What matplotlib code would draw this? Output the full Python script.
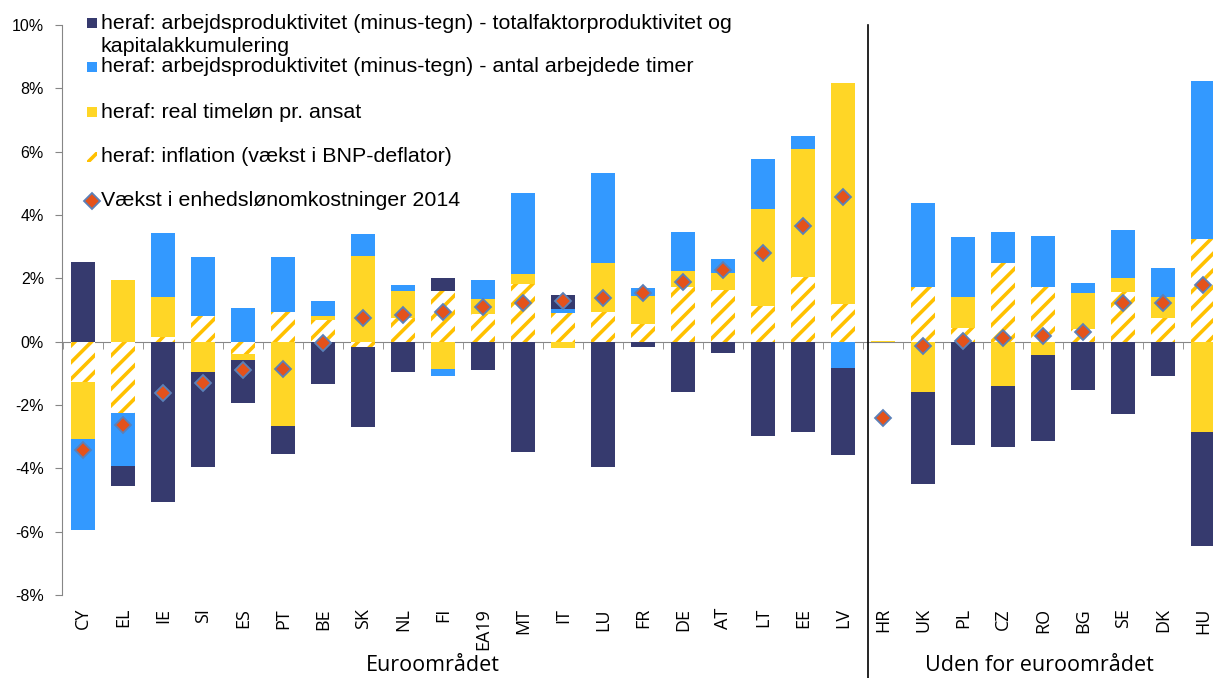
import numpy as np
import matplotlib.pyplot as plt
from matplotlib.patches import Rectangle
from matplotlib.lines import Line2D
from matplotlib import transforms
from matplotlib.ticker import FuncFormatter, FixedLocator

#%% data (pct. points)
countries = ['CY', 'EL', 'IE', 'SI', 'ES', 'PT', 'BE', 'SK', 'NL', 'FI', 'EA19', 'MT', 'IT', 'LU',
             'FR', 'DE', 'AT', 'LT', 'EE', 'LV',
             'HR', 'UK', 'PL', 'CZ', 'RO', 'BG', 'SE', 'DK', 'HU']
inflation = [-1.26, -2.24, 0.16, 0.82, -0.39, 0.95, 0.68, -0.18, 0.75, 1.60, 0.88, 1.81, 0.90, 0.95,
             0.56, 1.72, 1.63, 1.13, 2.03, 1.19,
             0.0, 1.72, 0.44, 2.47, 1.74, 0.40, 1.57, 0.75, 3.23]
real_wage = [-1.81, 1.95, 1.24, -0.97, -0.19, -2.66, 0.14, 2.69, 0.85, -0.86, 0.46, 0.32, -0.19, 1.53,
             0.88, 0.52, 0.53, 3.07, 4.05, 6.98,
             0.03, -1.60, 0.96, -1.39, -0.42, 1.13, 0.44, 0.66, -2.85]
hours = [-2.88, -1.69, 2.04, 1.84, 1.05, 1.73, 0.46, 0.70, 0.19, -0.21, 0.61, 2.56, 0.12, 2.86,
         0.24, 1.22, 0.44, 1.56, 0.43, -0.82,
         0.0, 2.65, 1.90, 1.00, 1.61, 0.31, 1.51, 0.92, 5.00]
tfp = [2.53, -0.64, -5.06, -2.98, -1.37, -0.90, -1.34, -2.50, -0.97, 0.40, -0.89, -3.48, 0.45, -3.97,
       -0.18, -1.58, -0.35, -2.98, -2.86, -2.77,
       0.0, -2.89, -3.27, -1.95, -2.73, -1.53, -2.29, -1.07, -3.60]
ulc = [-3.42, -2.63, -1.61, -1.29, -0.89, -0.87, -0.05, 0.74, 0.84, 0.95, 1.09, 1.23, 1.30, 1.37,
       1.53, 1.90, 2.26, 2.79, 3.65, 4.58,
       -2.42, -0.14, 0.02, 0.11, 0.19, 0.32, 1.23, 1.23, 1.79]

labels = ['heraf: arbejdsproduktivitet (minus-tegn) - totalfaktorproduktivitet og\nkapitalakkumulering',
          'heraf: arbejdsproduktivitet (minus-tegn) - antal arbejdede timer',
          'heraf: real timeløn pr. ansat',
          'heraf: inflation (vækst i BNP-deflator)',
          'Vækst i enhedslønomkostninger 2014']

navy = '#363A6E'
blue = '#3399FF'
yellow = '#FFD626'
hatch_col = '#FFC000'
diamond_fc = '#E4521B'
diamond_ec = '#5B80B8'
grey = '#868686'

plt.rcParams['hatch.linewidth'] = 2.6

#%% figure
W, H = 1213, 678
fig = plt.figure(figsize=(W / 100, H / 100), dpi=100)
ax = fig.add_axes([62 / W, 1 - 595 / H, (W - 62) / W, 570 / H])

x = np.arange(len(countries))
width = 0.59
pos_base = np.zeros(len(x))
neg_base = np.zeros(len(x))

# stacking order: inflation nearest zero, then real wage, hours, tfp
series = [(inflation, dict(facecolor='white', edgecolor=hatch_col, hatch='//')),
          (real_wage, dict(color=yellow)),
          (hours, dict(color=blue)),
          (tfp, dict(color=navy))]
for vals, style in series:
    vals = np.array(vals)
    pos = np.where(vals > 0, vals, 0)
    neg = np.where(vals < 0, vals, 0)
    ax.bar(x, pos, width, bottom=pos_base, zorder=2, linewidth=0, **style)
    ax.bar(x, neg, width, bottom=neg_base, zorder=2, linewidth=0, **style)
    pos_base += pos
    neg_base += neg

ax.plot(x, ulc, linestyle='none', marker='D', markersize=8.5, markerfacecolor=diamond_fc,
        markeredgecolor=diamond_ec, markeredgewidth=1.3, zorder=4)

ax.set_xlim(-0.525, 28.25)
ax.set_ylim(-8, 10)

# axes styling
for s in ['top', 'right']:
    ax.spines[s].set_visible(False)
ax.spines['left'].set_color(grey)
ax.spines['bottom'].set_position(('data', 0))
ax.spines['bottom'].set_color(grey)
ax.spines['bottom'].set_zorder(1.5)
ax.set_yticks(np.arange(-8, 11, 2))
ax.yaxis.set_major_formatter(FuncFormatter(lambda v, p: f'{v:.0f}%'))
ax.tick_params(axis='y', direction='out', length=5, color=grey, labelsize=11.5, pad=8)
for t in ax.get_yticklabels():
    t.set_fontfamily('Liberation Sans')
ax.set_xticks([])
ax.xaxis.set_minor_locator(FixedLocator(np.arange(-0.5, len(countries), 1)))
ax.tick_params(axis='x', which='minor', direction='out', length=5, color=grey)

# category labels below the plot
blend = transforms.blended_transform_factory(ax.transData, ax.transAxes)
for xi, c in zip(x, countries):
    ax.text(xi, -0.023, c, rotation=90, ha='center', va='top', transform=blend,
            fontsize=13, family='Open Sans')

ax.text(8.75, -0.123, 'Euroområdet', ha='center', va='center', transform=blend,
        fontsize=15.5, family='Open Sans')
ax.text(23.9, -0.123, 'Uden for euroområdet', ha='center', va='center', transform=blend,
        fontsize=15.5, family='Open Sans')

# divider between euro / non-euro
ax.plot([19.62, 19.62], [1.0, -0.16], transform=blend, color='black', linewidth=1.2,
        clip_on=False, zorder=5)

#%% legend drawn by hand (Excel-like spacing)
def fx(px):
    return px / W

def fy(py):
    return 1 - py / H

sq = 10
centers = [23, 67, 112, 157, 201]
icon_styles = [dict(facecolor=navy, linewidth=0),
               dict(facecolor=blue, linewidth=0),
               dict(facecolor=yellow, linewidth=0),
               dict(facecolor='white', edgecolor=hatch_col, hatch='//', linewidth=0)]
for cy, st in zip(centers[:4], icon_styles):
    fig.patches.append(Rectangle((fx(87), fy(cy + sq / 2)), sq / W, sq / H,
                                 transform=fig.transFigure, figure=fig, **st))
fig.add_artist(Line2D([fx(92)], [fy(201)], linestyle='none', marker='D', markersize=8.5,
                      markerfacecolor=diamond_fc, markeredgecolor=diamond_ec,
                      markeredgewidth=1.3, transform=fig.transFigure))

fig.text(fx(101), fy(35), labels[0], ha='left', va='center', fontsize=15.4,
         family='Liberation Sans', linespacing=1.22)
for cy, lab in zip(centers[1:], labels[1:]):
    fig.text(fx(101), fy(cy), lab, ha='left', va='center', fontsize=15.4,
             family='Liberation Sans')

fig.savefig('out.png', dpi=100)
